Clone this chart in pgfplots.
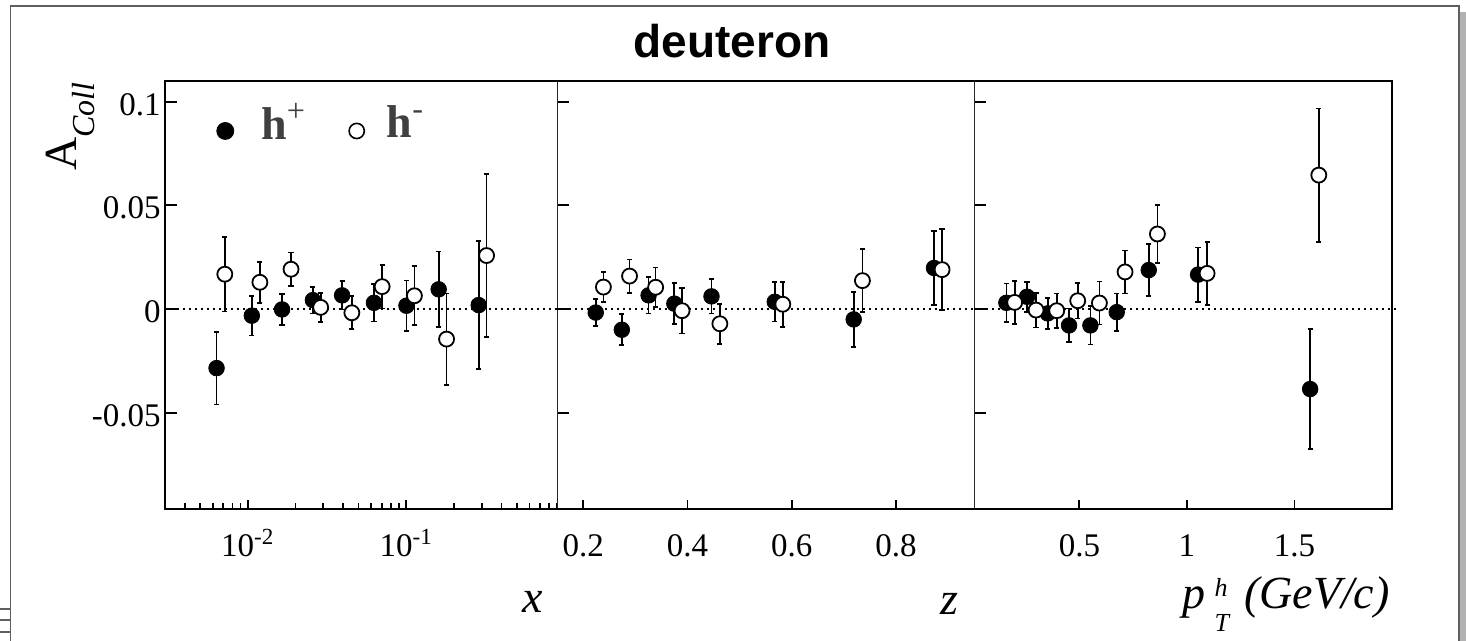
\documentclass[border=0pt]{standalone}
\usepackage{pgfplots}
\pgfplotsset{compat=1.18}
\usepackage{pgfplotstable}
\usepackage{fontspec}
\setmainfont{Liberation Serif}
\setsansfont{Liberation Sans}
\definecolor{leggray}{RGB}{64,64,64}
\definecolor{framegray}{RGB}{95,95,95}

% panel 1 : x
\pgfplotstableread{
x y ey
0.00635 -0.0285 0.0175
0.0106 -0.0032 0.0095
0.01645 -0.0002 0.0074
0.02576 0.0043 0.0064
0.0394 0.0066 0.0068
0.0626 0.0030 0.0090
0.1004 0.0016 0.0122
0.1604 0.0095 0.0183
0.287 0.0019 0.0308
}\xplus
\pgfplotstableread{
x y ey
0.00716 0.0168 0.0180
0.01192 0.0129 0.0099
0.01875 0.0192 0.0080
0.02884 0.0008 0.0070
0.0454 -0.0018 0.0080
0.0705 0.0108 0.0105
0.1127 0.0064 0.0142
0.1799 -0.0145 0.0220
0.3218 0.0258 0.0393
}\xminus
% panel 2 : z
\pgfplotstableread{
x y ey
0.2238 -0.0017 0.0065
0.2739 -0.0100 0.0075
0.3253 0.0066 0.0087
0.3747 0.0026 0.0098
0.4460 0.0061 0.0083
0.5675 0.0035 0.0095
0.7190 -0.0050 0.0133
0.8732 0.0198 0.0177
}\zplus
\pgfplotstableread{
x y ey
0.2385 0.0106 0.0072
0.2887 0.0159 0.0080
0.3388 0.0105 0.0095
0.3895 -0.0008 0.0110
0.4621 -0.0071 0.0096
0.5829 0.0023 0.0108
0.7358 0.0137 0.0152
0.8887 0.0190 0.0195
}\zminus
% panel 3 : pT
\pgfplotstableread{
x y ey
0.1605 0.0030 0.0093
0.2566 0.0059 0.0072
0.3527 -0.0021 0.0074
0.4519 -0.0079 0.0081
0.5512 -0.0079 0.0092
0.6736 -0.0015 0.0090
0.8225 0.0188 0.0124
1.0519 0.0166 0.0131
1.5729 -0.0386 0.0288
}\pplus
\pgfplotstableread{
x y ey
0.1990 0.0032 0.0104
0.2985 -0.0005 0.0084
0.3946 -0.0008 0.0083
0.4922 0.0040 0.0085
0.5930 0.0029 0.0104
0.7124 0.0179 0.0104
0.8628 0.0362 0.0139
1.0938 0.0172 0.0151
1.6132 0.0646 0.0322
}\pminus

\pgfplotsset{
  panel/.style={
    scale only axis, height=214.15pt,
    ymin=-0.0966, ymax=0.110,
    anchor=south west, clip=false,
    axis line style={line width=0.5pt, black!85},
    tick align=inside, xtick pos=bottom, ytick pos=left,
    major tick length=6pt, minor tick length=3pt,
    tick style={black, line width=0.9pt},
    xtick style={/pgfplots/major tick length=4.5pt},
    ytick={-0.05,0,0.05,0.1}, yticklabels={},
    ticklabel style={font=\fontsize{16.5}{16.5}\selectfont},
    xticklabel style={anchor=base, yshift=-23.7pt, inner sep=0pt},
    yticklabel style={anchor=east, inner sep=0pt, xshift=-2pt, yshift=-1.3pt},
    xlabel style={at={(rel axis cs:1,0)}, anchor=base east, inner sep=0pt,
                  font=\fontsize{23}{23}\selectfont},
  },
  hp/.style={only marks, mark=*, mark size=3.9pt, black,
    error bars/.cd, y dir=both, y explicit,
    error bar style={line width=0.85pt, black},
    error mark options={rotate=90, line width=0.85pt, mark size=1.3pt, black}},
  hm/.style={only marks, mark=*, mark size=3.75pt,
    mark options={fill=white, draw=black, line width=0.9pt},
    error bars/.cd, y dir=both, y explicit,
    error bar style={line width=0.85pt, black},
    error mark options={rotate=90, line width=0.85pt, mark size=1.3pt, black}},
  zeroline/.style={forget plot, black, line width=1pt, dash pattern=on 1pt off 2pt},
}

\begin{document}
\begin{tikzpicture}
\path[use as bounding box] (0,0) rectangle (733pt,320.5pt);

% outer frame of the picture
\draw[framegray, line width=0.7pt] (5.25pt,0pt) -- (5.25pt,317.5pt) -- (729.5pt,317.5pt) -- (729.5pt,0pt);
\fill[black!30] (730pt,0pt) rectangle (733pt,314.5pt);
\foreach \yy in {16,10.35,4.5}{\draw[framegray, line width=1.2pt] (0pt,\yy pt) -- (5pt,\yy pt);}

\node[anchor=base, font=\fontsize{23}{23}\selectfont\sffamily\bfseries] at (366pt,291.85pt) {deuteron};

% ---------- panel 1 : x ----------
\begin{axis}[panel, at={(82.5pt,65.85pt)}, width=196.15pt,
  xmode=log, xmin=0.003, xmax=0.9,
  xtick={0.01,0.1}, xticklabels={10\textsuperscript{-2},10\textsuperscript{-1}},
  minor xtick={0.004,0.005,0.006,0.007,0.008,0.009,0.02,0.03,0.04,0.05,0.06,0.07,0.08,0.09,0.2,0.3,0.4,0.5,0.6,0.7,0.8,0.9},
  yticklabels={-0.05,0,0.05,0.1},
  xlabel={\itshape x}, xlabel style={xshift=-7.15pt, yshift=-51.85pt},
  ylabel={{\fontsize{23}{23}\selectfont A}\raisebox{-9pt}{\fontsize{16}{16}\selectfont\itshape Coll}},
  ylabel style={at={(axis description cs:-0.2248,0.998)}, anchor=base east, inner sep=0pt},
  legend style={at={(axis description cs:0.131,0.902)}, anchor=west, draw=none, fill=none,
    inner sep=0pt, legend columns=2, nodes={inner sep=0pt},
    font=\fontsize{23}{23}\selectfont,
    /tikz/column 2/.style={column sep=21.5pt},
    /tikz/column 1/.style={column sep=13.8pt},
    /tikz/column 3/.style={column sep=11.2pt}},
  legend image post style={yshift=-4pt},
]
\addlegendimage{only marks, mark=*, mark size=4.25pt, black}
\addlegendentry{\textcolor{leggray}{\textbf{h}\textsuperscript{+}}}
\addlegendimage{only marks, mark=*, mark size=3.8pt, mark options={fill=white, draw=black, line width=0.8pt}}
\addlegendentry{\textcolor{leggray}{\textbf{h}\textsuperscript{-}}}
\addplot[zeroline] coordinates {(0.003,0) (0.9,0)};
\addplot[hp] table[x=x, y=y, y error=ey] {\xplus};
\addplot[hm] table[x=x, y=y, y error=ey] {\xminus};
\draw[line width=1pt] (rel axis cs:1,1) -- (rel axis cs:0,1) -- (rel axis cs:0,0);
\draw[line width=1.2pt] (rel axis cs:0,0) -- (rel axis cs:1,0);
\end{axis}

% ---------- panel 2 : z ----------
\begin{axis}[panel, at={(278.65pt,65.85pt)}, width=208.35pt,
  xmin=0.15, xmax=0.95,
  xtick={0.2,0.4,0.6,0.8}, xticklabels={0.2,0.4,0.6,0.8},
  xlabel={\itshape z}, xlabel style={xshift=-7.85pt, yshift=-52.85pt},
]
\addplot[zeroline] coordinates {(0.15,0) (0.95,0)};
\addplot[hp] table[x=x, y=y, y error=ey] {\zplus};
\addplot[hm] table[x=x, y=y, y error=ey] {\zminus};
\draw[line width=1pt] (rel axis cs:0,1) -- (rel axis cs:1,1);
\draw[line width=1.2pt] (rel axis cs:0,0) -- (rel axis cs:1,0);
\end{axis}

% ---------- panel 3 : pT ----------
\begin{axis}[panel, at={(487pt,65.85pt)}, width=209.15pt,
  xmin=0.01, xmax=1.955,
  xtick={0.5,1,1.5}, xticklabels={0.5,1,1.5},
  xlabel={\itshape p\hspace{4.3pt}\rlap{\raisebox{5.8pt}{\fontsize{13}{13}\selectfont\itshape h}}\raisebox{-11.7pt}{\fontsize{13}{13}\selectfont\itshape T}\hspace{7.5pt}(GeV/c)},
  xlabel style={xshift=-1.15pt, yshift=-49.5pt},
]
\addplot[zeroline] coordinates {(0.01,0) (1.99,0)};
\addplot[hp] table[x=x, y=y, y error=ey] {\pplus};
\addplot[hm] table[x=x, y=y, y error=ey] {\pminus};
\draw[line width=1pt] (rel axis cs:0,1) -- (rel axis cs:1,1) -- (rel axis cs:1,0);
\draw[line width=1.2pt] (rel axis cs:0,0) -- (rel axis cs:1,0);
\end{axis}
\end{tikzpicture}
\end{document}
